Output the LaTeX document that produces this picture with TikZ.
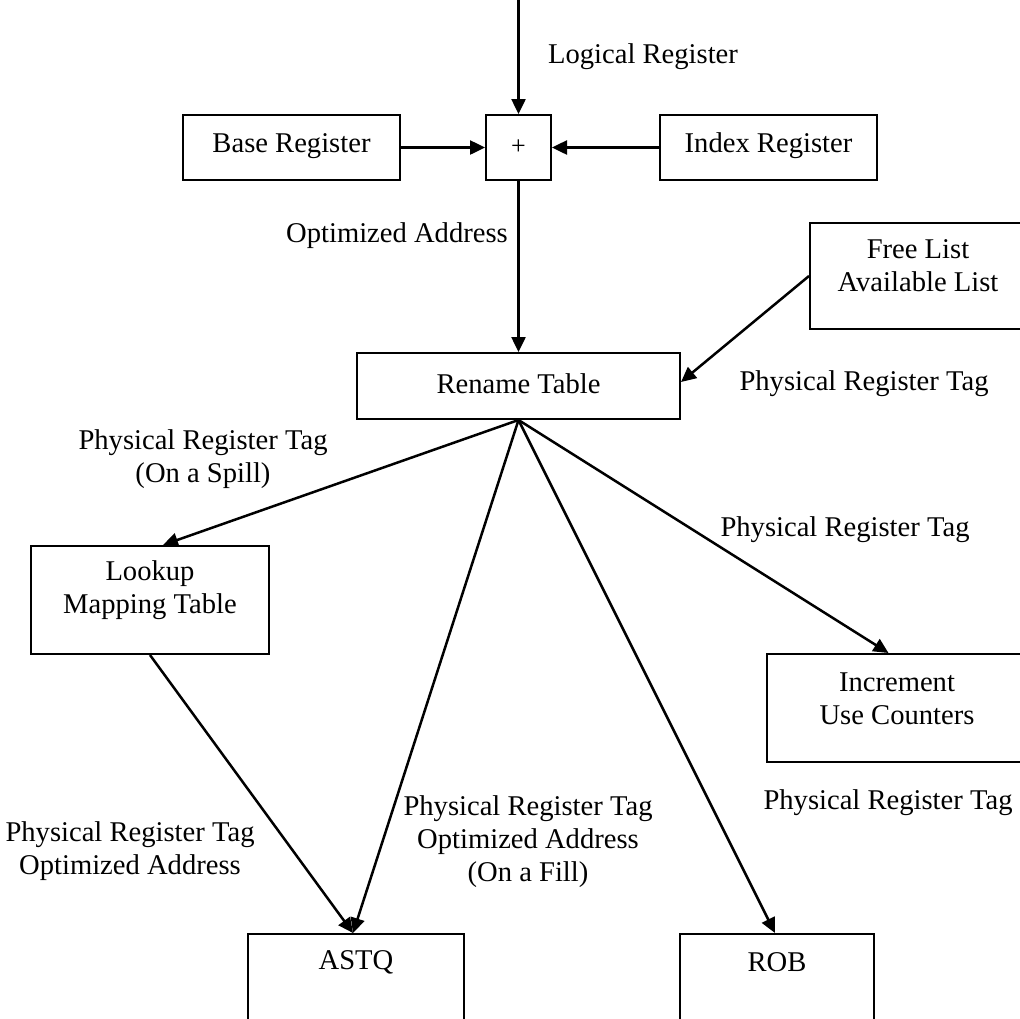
\documentclass[tikz,border=0pt]{standalone}
\usepackage{fontspec}
\setmainfont{Liberation Serif}
\usetikzlibrary{arrows.meta,calc}
\begin{document}
\begin{tikzpicture}[x=1pt,y=-1pt,
  txt/.style={font=\fontsize{28.6pt}{33pt}\selectfont, align=center, inner sep=0pt},
  blk/.style={draw, line width=2pt, inner sep=0pt, fill=white},
  flow/.style={line width=2.5pt, -{Triangle[length=15pt,width=14pt]}},
]
\useasboundingbox (0,0) rectangle (1020,1018);
\clip (0,0) rectangle (1020,1018);

% boxes
\node[blk, minimum width=65pt, minimum height=65pt] (plus) at (518.5,147.5) {};
\node[txt, font=\fontsize{26pt}{30pt}\selectfont] (plustxt) at (plus.center) {+};
\node[blk, minimum width=217pt, minimum height=65pt] (base) at (291.5,147.5) {};
\node[txt] (basetxt) at (291.5,146) {Base Register};
\node[blk, minimum width=217pt, minimum height=65pt] (index) at (768.5,147.5) {};
\node[txt] (indextxt) at (768.5,146) {Index Register};
\node[blk, minimum width=323pt, minimum height=66pt] (rename) at (518.5,386) {};
\node[txt] (renametxt) at (518.5,384) {Rename Table};
\node[blk, minimum width=230pt, minimum height=106pt] (free) at (925,276) {};
\node[txt] (freetxt) at (918,266) {Free List\\Available List};
\node[blk, minimum width=238pt, minimum height=108pt] (lookup) at (150,600) {};
\node[txt] (lookuptxt) at (150,590) {Lookup\\Mapping Table};
\node[blk, minimum width=273pt, minimum height=108pt] (incr) at (903.5,708) {};
\node[txt] (incrtxt) at (897,699) {Increment\\Use Counters};
\node[blk, minimum width=216pt, minimum height=116pt] (astq) at (356,992) {};
\node[txt] (astqtxt) at (356,962) {ASTQ};
\node[blk, minimum width=194pt, minimum height=116pt] (rob) at (777,992) {};
\node[txt] (robtxt) at (777,962) {ROB};

% connectors
\coordinate (src) at (518.5,0);
\draw[flow] (src) -- (plus.north);
\draw[flow] (base.east) -- (plus.west);
\draw[flow] (index.west) -- (plus.east);
\draw[flow] (plus.south) -- (rename.north);
\draw[flow] (free.west) -- ($(rename.east)+(0,-4)$);
\draw[flow] (rename.south) -- ($(lookup.north)+(13,0)$);
\draw[flow] (rename.south) -- ($(astq.north)+(-3,0)$);
\draw[flow] (lookup.south) -- ($(astq.north)+(-3,0)$);
\draw[flow] (rename.south) -- ($(rob.north)+(-2,0)$);
\draw[flow] (rename.south) -- ($(incr.north)+(-15,0)$);

% labels
\node[txt] (lbllogical) at (643,57) {Logical Register};
\node[txt, anchor=east] (lbloptaddr) at (508,236) {Optimized Address};
\node[txt] (lblfree) at (864,384) {Physical Register Tag};
\node[txt] (lblspill) at (203,459) {Physical Register Tag\\(On a Spill)};
\node[txt] (lblincr) at (845,530) {Physical Register Tag};
\node[txt] (lblmap) at (130,851) {Physical Register Tag\\Optimized Address};
\node[txt] (lblfill) at (528,842) {Physical Register Tag\\Optimized Address\\(On a Fill)};
\node[txt] (lblrob) at (888,803) {Physical Register Tag};
\end{tikzpicture}
\end{document}
